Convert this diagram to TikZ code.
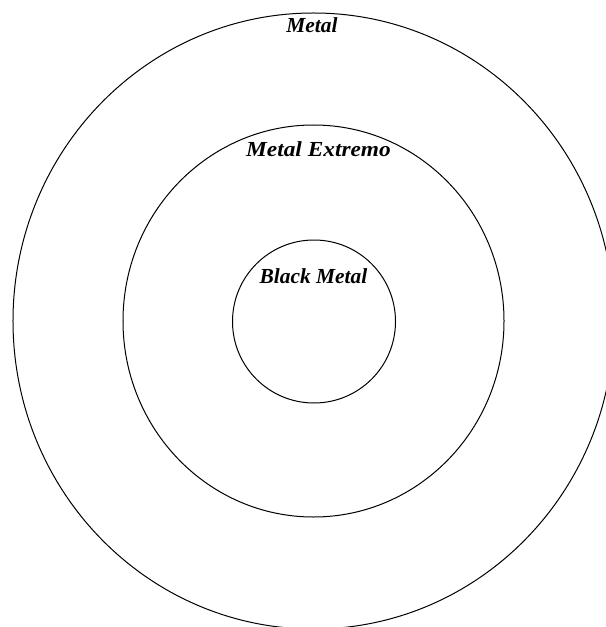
\documentclass[tikz,border=0pt]{standalone}
\usepackage{fontspec}
\setmainfont{Liberation Serif}
\begin{document}
\begin{tikzpicture}[x=1bp,y=-1bp,
  ring/.style={draw=black, line width=1bp},
  lbl/.style={font=\fontsize{21.5}{24}\selectfont\bfseries\itshape, anchor=base, inner sep=0pt}]
\useasboundingbox (0,0) rectangle (606,627);
\fill[white] (0,0) rectangle (606,627);
\begin{scope}
\clip (0,0) rectangle (606,627);
\draw[ring] (313.5,321) ellipse [x radius=300.5bp, y radius=308bp];
\draw[ring] (313.5,321) ellipse [x radius=190.5bp, y radius=196bp];
\draw[ring] (314,321.5) ellipse [x radius=81.5bp, y radius=81.5bp];
\end{scope}
\node[lbl] (metal) at (312,33) {Metal};
\node[lbl, xscale=1.09] (extremo) at (318.5,157) {Metal Extremo};
\node[lbl] (black) at (313.5,283) {Black Metal};
\end{tikzpicture}
\end{document}
